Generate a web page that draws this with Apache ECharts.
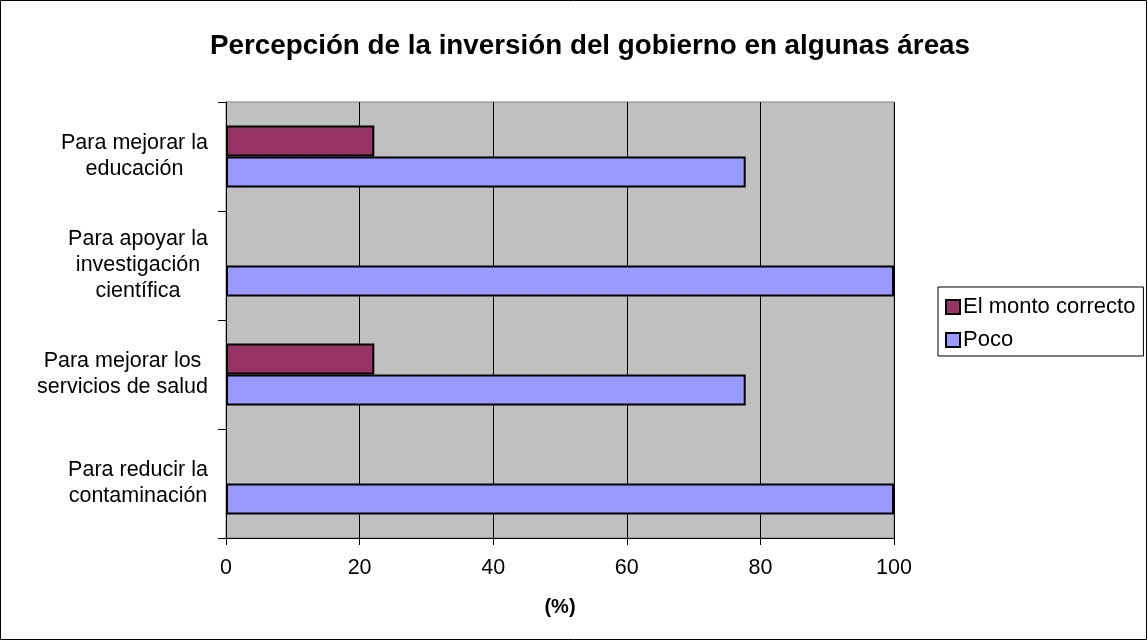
<!DOCTYPE html>
<html>
<head>
<meta charset="utf-8">
<script src="https://cdn.jsdelivr.net/npm/echarts@6/dist/echarts.min.js"></script>
<style>
  html, body { margin: 0; padding: 0; background: #fff; }
  #chart { width: 1148px; height: 641px; }
</style>
</head>
<body>
<div id="chart"></div>
<script>
// categorias (de arriba hacia abajo)
var categories = [
    'Para mejorar la\neducación',
    'Para apoyar la\ninvestigación\ncientífica',
    'Para mejorar los\nservicios de salud',
    'Para reducir la\ncontaminación'
];
var montoCorrecto = [22.2, null, 22.2, null];
var poco = [77.8, 100, 77.8, 100];
var xTicks = [0, 20, 40, 60, 80, 100];

var FONT = "'Liberation Sans', Arial, sans-serif";
var LABEL_SIZE = 21.5;

/**ancho de cada linea, para centrar las lineas dentro de la etiqueta*/
var ctx = document.createElement('canvas').getContext('2d');
ctx.font = LABEL_SIZE + 'px ' + FONT;
var rich = {};
categories.forEach(function (c, i) {
    var w = 0;
    c.split('\n').forEach(function (l) {
        w = Math.max(w, ctx.measureText(l).width);
    });
    rich['c' + i] = {width: Math.ceil(w), align: 'center', fontSize: LABEL_SIZE, fontFamily: FONT, color: '#000', lineHeight: 26};
});

var chart = echarts.init(document.getElementById('chart'));
chart.setOption({
    animation: false,
    backgroundColor: '#fff',
    textStyle: {fontFamily: FONT, color: '#000'},
    title: {
        text: 'Percepción de la inversión del gobierno en algunas áreas',
        left: 585,
        top: 27,
        textAlign: 'center',
        textStyle: {fontSize: 27.8, fontWeight: 'bold', color: '#000', fontFamily: FONT}
    },
    legend: {
        orient: 'vertical',
        left: 938,
        top: 287,
        padding: [9, 8, 5, 7],
        itemGap: 11,
        itemWidth: 14,
        itemHeight: 14,
        borderColor: '#000',
        borderWidth: 1,
        backgroundColor: '#fff',
        icon: 'rect',
        data: ['El monto correcto', 'Poco'],
        textStyle: {fontSize: 22, color: '#000', fontFamily: FONT, padding: [0, 0, 0, -2]}
    },
    graphic: [{
        type: 'rect',
        shape: {x: 0.5, y: 0.5, width: 1146, height: 639},
        style: {fill: null, stroke: '#000', lineWidth: 1},
        silent: true
    }],
    grid: {
        left: 226, right: 254, top: 102, bottom: 103,
        show: true,
        backgroundColor: '#C0C0C0',
        borderColor: '#808080',
        borderWidth: 1
    },
    xAxis: {
        type: 'value',
        min: xTicks[0],
        max: xTicks[xTicks.length - 1],
        interval: xTicks[1] - xTicks[0],
        name: '(%)',
        nameLocation: 'middle',
        nameGap: 59,
        nameTextStyle: {fontSize: 20, fontWeight: 'bold', color: '#000', fontFamily: FONT},
        axisLine: {show: true, lineStyle: {color: '#000', width: 1}},
        axisTick: {show: true, inside: false, length: 7, lineStyle: {color: '#000'}},
        axisLabel: {fontSize: LABEL_SIZE, color: '#000', margin: 19, fontFamily: FONT},
        splitLine: {show: true, lineStyle: {color: '#000', width: 1}}
    },
    yAxis: {
        type: 'category',
        inverse: true,
        data: categories,
        axisLine: {show: true, lineStyle: {color: '#000', width: 1}},
        axisTick: {show: true, inside: false, length: 8, lineStyle: {color: '#000'}},
        axisLabel: {
            margin: 18,
            formatter: function (value, idx) {
                return value.split('\n').map(function (l) {
                    return '{c' + idx + '|' + l + '}';
                }).join('\n');
            },
            rich: rich
        },
        splitLine: {show: false}
    },
    series: [{
        name: 'El monto correcto',
        type: 'bar',
        data: montoCorrecto,
        barWidth: 31,
        barGap: '0%',
        itemStyle: {color: '#993366', borderColor: '#000', borderWidth: 2}
    }, {
        name: 'Poco',
        type: 'bar',
        data: poco,
        barWidth: 31,
        barGap: '0%',
        itemStyle: {color: '#9999FF', borderColor: '#000', borderWidth: 2}
    }]
});
</script>
</body>
</html>
